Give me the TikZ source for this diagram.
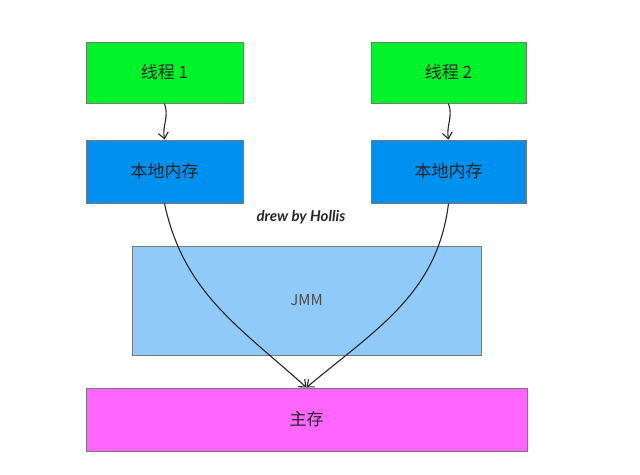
\documentclass[tikz,border=0pt]{standalone}
\usepackage{fontspec}
\setmainfont{Lato}
\newfontfamily\cjk{Noto Sans CJK SC}
\usetikzlibrary{arrows.meta}
\definecolor{thgreen}{RGB}{0,242,40}
\definecolor{lmblue}{RGB}{0,144,240}
\definecolor{jmmblue}{RGB}{144,202,249}
\definecolor{mainpink}{RGB}{255,102,255}
\definecolor{edgegray}{RGB}{120,120,120}
\tikzset{
  boxstyle/.style={draw=edgegray, line width=1pt, inner sep=0pt, font=\cjk\fontsize{17}{20}\selectfont, text=black!85},
  conn/.style={draw=black!85, line width=1.1pt, -{Straight Barb[length=6pt,width=10pt]}},
}
\begin{document}
\begin{tikzpicture}[x=1pt,y=-1pt]
\useasboundingbox (0,0) rectangle (640,474);
\node[boxstyle, fill=thgreen, minimum width=157pt, minimum height=61pt] (t1) at (164.5,72.5) {线程 1};
\node[boxstyle, fill=thgreen, minimum width=155pt, minimum height=61pt] (t2) at (448.5,72.5) {线程 2};
\node[boxstyle, fill=lmblue, minimum width=157pt, minimum height=63pt] (m1) at (164.5,171.5) {本地内存};
\node[boxstyle, fill=lmblue, minimum width=155pt, minimum height=63pt] (m2) at (448.5,171.5) {本地内存};
\node[boxstyle, fill=jmmblue, minimum width=349pt, minimum height=109pt, font=\cjk\fontsize{15}{18}\selectfont, text=black!70] (jmm) at (306.5,300.5) {JMM};
\node[boxstyle, fill=mainpink, minimum width=441pt, minimum height=63pt] (main) at (306.5,419.5) {主存};
\node[font=\itshape\bfseries\fontsize{15}{18}\selectfont, text=black!85] (lbl) at (301,217) {drew by Hollis};
\draw[conn] (t1.south) to[out=-70,in=100] (m1.north);
\draw[conn] (t2.south) to[out=-70,in=100] (m2.north);
\draw[conn] (m1.south) to[out=-78,in=138] (main.north);
\draw[conn] (m2.south) to[out=-97,in=40] (main.north);
\end{tikzpicture}
\end{document}
